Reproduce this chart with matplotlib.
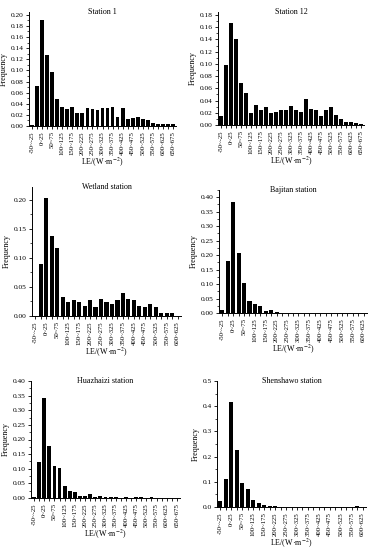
import matplotlib
matplotlib.use('Agg')
import matplotlib.pyplot as plt
from matplotlib.ticker import AutoMinorLocator

plt.rcParams['font.family'] = ['Liberation Serif', 'DejaVu Serif']
plt.rcParams['mathtext.fontset'] = 'stix'

# bin lower edges, W/m2
EDGES_29 = list(range(-50, 675, 25))   # -50~-25 ... 650~675
EDGES_27 = list(range(-50, 625, 25))   # -50~-25 ... 600~625

station1 = [0.002, 0.072, 0.190, 0.128, 0.098, 0.049, 0.035, 0.030, 0.035, 0.023,
            0.023, 0.033, 0.031, 0.028, 0.033, 0.033, 0.035, 0.017, 0.033, 0.012,
            0.014, 0.017, 0.012, 0.010, 0.005, 0.003, 0.003, 0.003, 0.003]
station12 = [0.015, 0.099, 0.167, 0.141, 0.068, 0.052, 0.019, 0.033, 0.024, 0.029,
             0.019, 0.021, 0.024, 0.024, 0.031, 0.024, 0.021, 0.043, 0.027, 0.024,
             0.014, 0.024, 0.029, 0.017, 0.010, 0.005, 0.005, 0.003, 0.001]
wetland = [0.000, 0.090, 0.203, 0.137, 0.117, 0.033, 0.024, 0.027, 0.024, 0.018,
           0.027, 0.015, 0.030, 0.024, 0.021, 0.027, 0.039, 0.030, 0.027, 0.018,
           0.015, 0.021, 0.015, 0.006, 0.006, 0.006, 0.000]
bajitan = [0.010, 0.181, 0.382, 0.209, 0.102, 0.042, 0.032, 0.024, 0.008, 0.011,
           0.003, 0.001, 0.0005, 0.0005, 0.0005, 0.0005, 0.0005, 0.0005, 0.0005, 0.0005,
           0.0005, 0.0005, 0.0005, 0.0005, 0.0005, 0.0005, 0.0005]
huazhaizi = [0.005, 0.122, 0.343, 0.178, 0.110, 0.101, 0.040, 0.023, 0.021, 0.007,
             0.007, 0.012, 0.005, 0.007, 0.005, 0.002, 0.002, 0.000, 0.005, 0.000,
             0.002, 0.005, 0.000, 0.002, 0.001, 0.001, 0.001, 0.001, 0.001]
shenshawo = [0.025, 0.110, 0.418, 0.225, 0.095, 0.073, 0.029, 0.014, 0.006, 0.005,
             0.002, 0.001, 0.001, 0.001, 0.001, 0.001, 0.001, 0.001, 0.001, 0.001,
             0.001, 0.001, 0.001, 0.001, 0.001, 0.003, 0.001]

# (title, values, edges, ylim, ytick step, rect in px: left, right, top, bottom)
PANELS = [
    ('Station 1', station1, EDGES_29, 0.205, 0.02, (29, 176, 12, 126)),
    ('Station 12', station12, EDGES_29, 0.185, 0.02, (218, 364, 12, 125)),
    ('Wetland station', wetland, EDGES_27, 0.222, 0.05, (32, 181, 187, 316)),
    ('Bajitan station', bajitan, EDGES_27, 0.425, 0.05, (219, 367, 190, 313)),
    ('Huazhaizi station', huazhaizi, EDGES_29, 0.40, 0.05, (31, 180, 381, 498)),
    ('Shenshawo station', shenshawo, EDGES_27, 0.50, 0.1, (217, 366, 381, 507)),
]

W, H = 371, 550
fig = plt.figure(figsize=(W / 100, H / 100), dpi=100)

for title, vals, edges, ytop, step, (l, r, t, b) in PANELS:
    ax = fig.add_axes([l / W, 1 - b / H, (r - l) / W, (b - t) / H])
    n = len(vals)
    x = list(range(n))
    ax.bar(x, vals, width=0.75, color='black')
    ax.set_xlim(-0.6, n - 0.4)
    ax.set_ylim(0, ytop)
    labels = [f'{e}~{e + 25}' if i % 2 == 0 else '' for i, e in enumerate(edges)]
    ax.set_xticks(x)
    ax.set_xticklabels(labels, rotation=90, fontsize=4.9)
    yt = [round(i * step, 3) for i in range(int(ytop / step + 1e-6) + 1)]
    ax.set_yticks(yt)
    fmt = '{:.1f}' if step >= 0.1 else '{:.2f}'
    ax.set_yticklabels([fmt.format(v) for v in yt], fontsize=5.3)
    ax.yaxis.set_minor_locator(AutoMinorLocator(2))
    ax.tick_params(axis='both', which='major', direction='out', length=2.5, width=0.6, pad=1.2)
    ax.tick_params(axis='y', which='minor', direction='out', length=1.5, width=0.5)
    for s in ('top', 'right'):
        ax.spines[s].set_visible(False)
    for s in ('left', 'bottom'):
        ax.spines[s].set_linewidth(0.7)
    ax.set_ylabel('Frequency', fontsize=5.8, labelpad=2)
    ax.set_xlabel('LE/(W·m$^{-2}$)', fontsize=5.8, labelpad=1)
    ax.text(0.5, 1.0, title, transform=ax.transAxes, ha='center', va='center', fontsize=5.8)

fig.savefig('out.png', dpi=100)
